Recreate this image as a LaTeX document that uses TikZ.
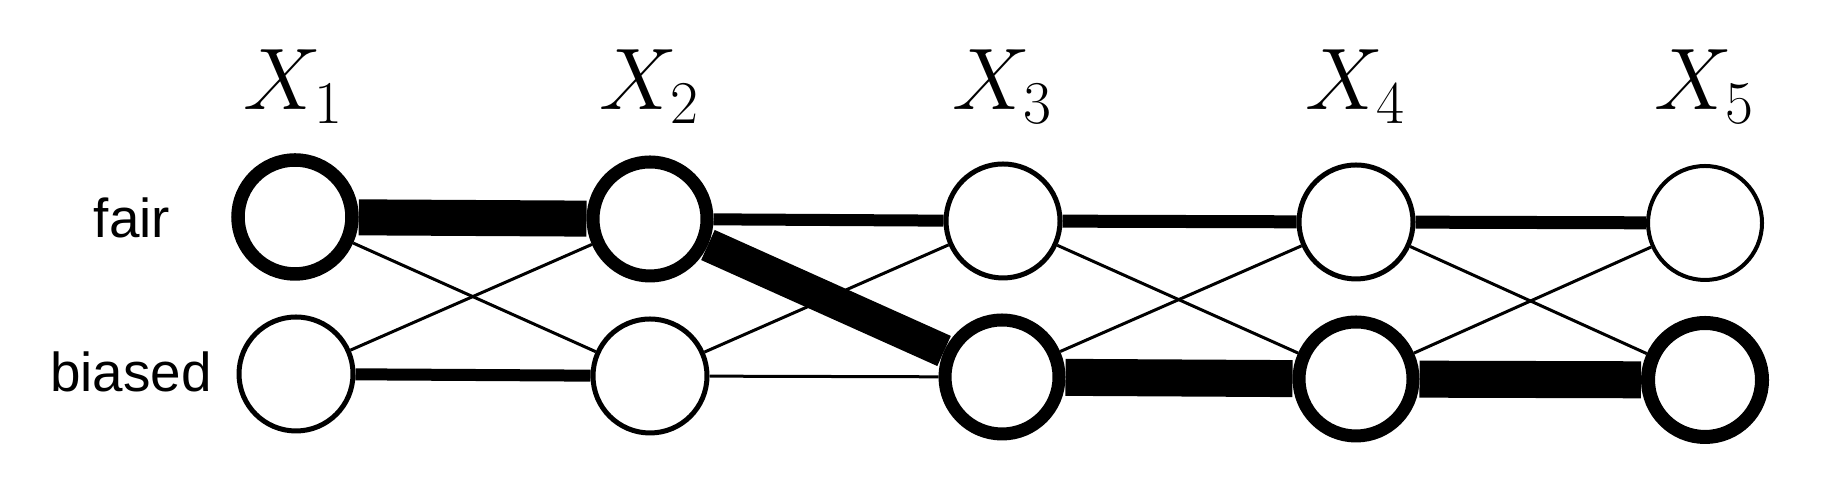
\documentclass[tikz,border=0pt]{standalone}
\usepackage{fontspec}
\newfontfamily\statefont{Liberation Sans}
\begin{document}
\begin{tikzpicture}[
    state/.style={draw, circle, minimum size=11.4mm, inner sep=0pt},
    heavy/.style={state, line width=1.35mm},
    light/.style={state, line width=0.5mm},
    varlabel/.style={anchor=base, inner sep=0pt, font=\fontsize{24.2pt}{29pt}\selectfont},
    rowlabel/.style={anchor=base, inner sep=0pt, font=\statefont\fontsize{15.6pt}{19pt}\selectfont}
  ]
  \useasboundingbox (0,0) rectangle (18.28,4.92);

  % states
  \node [heavy] (f1) at (2.95,2.75) {};
  \node [heavy, line width=1.3mm] (f2) at (6.50,2.73) {};
  \node [light] (f3) at (10.03,2.71) {};
  \node [light] (f4) at (13.56,2.70) {};
  \node [light, line width=0.4mm] (f5) at (17.05,2.69) {};
  \node [light] (b1) at (2.96,1.18) {};
  \node [light] (b2) at (6.50,1.16) {};
  \node [heavy, line width=1.3mm] (b3) at (10.02,1.15) {};
  \node [heavy, line width=1.3mm] (b4) at (13.56,1.13) {};
  \node [heavy, line width=1.4mm] (b5) at (17.05,1.12) {};

  % labels
  \node [rowlabel] (fairlbl) at (1.32,2.54) {fair};
  \node [rowlabel] (biasedlbl) at (1.31,1.00) {biased};
  \foreach \i/\x in {1/2.94, 2/6.50, 3/10.03, 4/13.56, 5/17.05}
    \node [varlabel] (x\i) at (\x,3.82) {$X_\i$};

  % transitions
  \draw [line width=3.6mm] (f1) -- (f2);
  \draw [line width=0.3mm] (f1) -- (b2);
  \draw [line width=0.3mm] (b1) -- (f2);
  \draw [line width=1.2mm] (b1) -- (b2);
  \draw [line width=1.2mm] (f2) -- (f3);
  \draw [line width=3.3mm] (f2) -- (b3);
  \draw [line width=0.3mm] (b2) -- (f3);
  \draw [line width=0.3mm] (b2) -- (b3);
  \draw [line width=1.3mm] (f3) -- (f4);
  \draw [line width=0.3mm] (f3) -- (b4);
  \draw [line width=0.3mm] (b3) -- (f4);
  \draw [line width=3.7mm] (b3) -- (b4);
  \draw [line width=1.3mm] (f4) -- (f5);
  \draw [line width=0.3mm] (f4) -- (b5);
  \draw [line width=0.3mm] (b4) -- (f5);
  \draw [line width=3.7mm] (b4) -- (b5);
\end{tikzpicture}
\end{document}
